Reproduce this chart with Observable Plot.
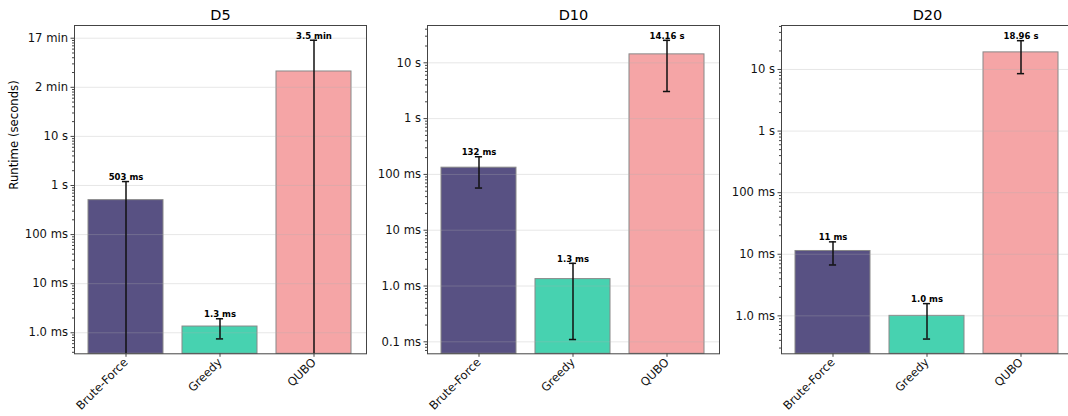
<!DOCTYPE html>
<html><head><meta charset="utf-8">
<script src="https://cdn.jsdelivr.net/npm/d3@7"></script>
<script src="https://cdn.jsdelivr.net/npm/@observablehq/plot@0.6"></script>
<style>
html,body{margin:0;padding:0;background:#fff;width:1068px;height:416px;overflow:hidden;}
#wrap{position:relative;width:1068px;height:416px;overflow:hidden;}
.panel{position:absolute;top:0;}
.panel svg{max-width:none;background:transparent;}
</style></head><body><div id="wrap"></div>
<script>
// ---- data ----
const methods = ["Brute-Force", "Greedy", "QUBO"];
const colors = ["#585183", "#47d2b0", "#f5a5a6"];
const datasets = ["D5", "D10", "D20"];

const meanD5 = [0.503, 0.00134, 210];
const stdD5 = [0.70, 0.00059, 700];
const meanD10 = [0.132, 0.00133, 14.16];
const stdD10 = [0.075, 0.00122, 11.1];
const meanD20 = [0.0113, 0.00100, 18.96];
const stdD20 = [0.0046, 0.00058, 10.4];

const tickValsD5 = [1e-3, 1e-2, 1e-1, 1, 10, 100, 1000];
const tickLabelsD5 = ["1.0 ms", "10 ms", "100 ms", "1 s", "10 s", "2 min", "17 min"];
const tickValsD10 = [1e-4, 1e-3, 1e-2, 1e-1, 1, 10];
const tickLabelsD10 = ["0.1 ms", "1.0 ms", "10 ms", "100 ms", "1 s", "10 s"];
const tickValsD20 = [1e-3, 1e-2, 1e-1, 1, 10];
const tickLabelsD20 = ["1.0 ms", "10 ms", "100 ms", "1 s", "10 s"];

const yLimD5 = [3.73e-4, 1815];
const yLimD10 = [6.1e-5, 46.6];
const yLimD20 = [2.42e-4, 51.8];

// ---- helpers ----
function fmt(v) {
  if (v < 0.01) return (v * 1000).toFixed(1) + " ms";
  if (v < 1) return Math.round(v * 1000) + " ms";
  if (v < 60) return v.toFixed(2) + " s";
  return (v / 60).toFixed(1) + " min";
}
function minorTicks(dom) {
  const out = [];
  const k0 = Math.floor(Math.log10(dom[0])), k1 = Math.ceil(Math.log10(dom[1]));
  for (let k = k0; k <= k1; k++) for (let m = 2; m <= 9; m++) {
    const v = m * Math.pow(10, k);
    if (v >= dom[0] && v <= dom[1]) out.push(v);
  }
  return out;
}

const panels = [
  {name: datasets[0], mean: meanD5, std: stdD5, ticks: tickValsD5, labels: tickLabelsD5, dom: yLimD5},
  {name: datasets[1], mean: meanD10, std: stdD10, ticks: tickValsD10, labels: tickLabelsD10, dom: yLimD10},
  {name: datasets[2], mean: meanD20, std: stdD20, ticks: tickValsD20, labels: tickLabelsD20, dom: yLimD20}
];
const frameLeft = [74, 427.3, 780.7];
const innerW = 292;
const mTop = 25, mBottom = 62.7, H = 416;

const wrap = document.getElementById("wrap");
panels.forEach((p, pi) => {
  const data = methods.map((m, i) => ({method: m, mean: p.mean[i], std: p.std[i], color: colors[i]}));
  const caps = [];
  data.forEach(d => {
    caps.push({method: d.method, v: d.mean + d.std});
    if (d.mean - d.std > 0) caps.push({method: d.method, v: d.mean - d.std});
  });
  const labelMap = new Map(p.ticks.map((t, i) => [t, p.labels[i]]));
  const mLeft = pi === 0 ? 74 : 60;
  const step = innerW / 3.08;
  const inset = step * 0.4 - 4;
  const marks = [
    Plot.barY(data, {x: "method", y1: p.dom[0], y2: "mean", fill: "color", stroke: "#888", strokeWidth: 1}),
    Plot.gridY(p.ticks, {stroke: "#b0b0b0", strokeOpacity: 0.3, strokeWidth: 1}),
    Plot.ruleX(data, {x: "method", y1: d => d.mean - d.std > 0 ? d.mean - d.std : 1e-12, y2: d => d.mean + d.std, stroke: "#111", strokeWidth: 1.5, clip: true}),
    Plot.tickY(caps, {x: "method", y: "v", insetLeft: inset, insetRight: inset, stroke: "#111", strokeWidth: 1.5}),
    Plot.text(data, {x: "method", y: d => d.mean + d.std, text: d => fmt(d.mean), fontWeight: "bold", fontSize: 8.5, lineAnchor: "bottom", dy: -1.5, fill: "#000"}),
    Plot.axisY({ticks: minorTicks(p.dom), tickSize: 2, fill: "none", stroke: "#444", label: null}),
    Plot.axisY({ticks: p.ticks, tickSize: 3.5, tickPadding: 3, tickFormat: d => labelMap.get(d), stroke: "#444", fill: "#111", label: null}),
    Plot.axisX({tickRotate: -45, tickSize: 3.5, tickPadding: 3, stroke: "#444", fill: "#111", label: null}),
    Plot.frame({stroke: "#444", strokeWidth: 1}),
    Plot.text([p.name], {frameAnchor: "top", dy: -10, lineAnchor: "middle", fontSize: 14.5, fill: "#000"})
  ];
  if (pi === 0) marks.push(Plot.text(["Runtime (seconds)"], {frameAnchor: "left", rotate: -90, dx: -60, fontSize: 11.7, fill: "#000"}));
  const chart = Plot.plot({
    width: mLeft + innerW + 2,
    height: H,
    marginLeft: mLeft, marginRight: 2, marginTop: mTop, marginBottom: mBottom,
    style: {fontFamily: "DejaVu Sans", fontSize: "11.6px", background: "transparent", overflow: "visible"},
    x: {type: "band", domain: methods, paddingInner: 0.2, paddingOuter: 0.14},
    y: {type: "log", domain: p.dom},
    marks
  });
  const div = document.createElement("div");
  div.className = "panel";
  div.style.left = (frameLeft[pi] - mLeft) + "px";
  div.appendChild(chart);
  wrap.appendChild(div);
});
</script></body></html>
